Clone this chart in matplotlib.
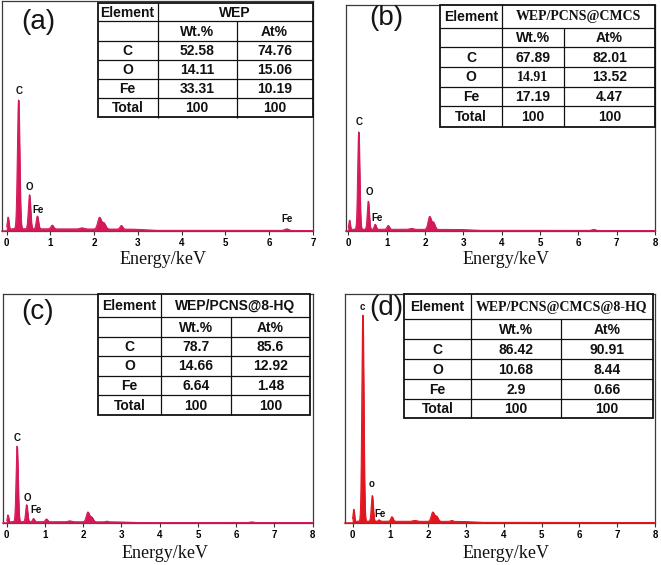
import numpy as np
import matplotlib
matplotlib.use("Agg")
import matplotlib.pyplot as plt
from matplotlib.patches import Rectangle

# ---------------- data ----------------
elements = ["C", "O", "Fe", "Total"]

titles = ["WEP", "WEP/PCNS@CMCS", "WEP/PCNS@8-HQ", "WEP/PCNS@CMCS@8-HQ"]
wt_a = ["52.58", "14.11", "33.31", "100"]
at_a = ["74.76", "15.06", "10.19", "100"]
wt_b = ["67.89", "14.91", "17.19", "100"]
at_b = ["82.01", "13.52", "4.47", "100"]
wt_c = ["78.7", "14.66", "6.64", "100"]
at_c = ["85.6", "12.92", "1.48", "100"]
wt_d = ["86.42", "10.68", "2.9", "100"]
at_d = ["90.91", "8.44", "0.66", "100"]

# EDS peaks: energy (keV), relative intensity
pk_e_a = [0.03, 0.27, 0.52, 0.70, 1.04, 1.72, 2.12, 2.22, 2.62, 6.40]
pk_h_a = [0.058, 0.56, 0.148, 0.056, 0.016, 0.005, 0.050, 0.026, 0.016, 0.007]
pk_e_b = [0.03, 0.27, 0.52, 0.70, 1.04, 1.65, 2.12, 2.22, 6.40]
pk_h_b = [0.046, 0.43, 0.124, 0.022, 0.017, 0.004, 0.056, 0.030, 0.005]
pk_e_c = [0.03, 0.27, 0.52, 0.70, 1.04, 1.65, 2.12, 2.22, 2.62, 6.40]
pk_h_c = [0.034, 0.33, 0.074, 0.014, 0.012, 0.004, 0.042, 0.020, 0.003, 0.003]
pk_e_d = [0.03, 0.27, 0.52, 0.70, 1.04, 1.65, 2.12, 2.22, 2.62]
pk_h_d = [0.058, 0.90, 0.112, 0.006, 0.020, 0.004, 0.040, 0.022, 0.004]
# peak widths (keV) by energy
pk_w = {0.03: 0.02, 0.27: 0.026, 0.52: 0.025, 0.70: 0.025, 1.04: 0.03,
        1.65: 0.05, 1.72: 0.05, 2.12: 0.04, 2.22: 0.04, 2.62: 0.03, 6.40: 0.045}

# continuum background: energy, level
bg_e = [0.0, 0.12, 2.9, 3.4, 8.0]
bg_a = [0.0, 0.010, 0.008, 0.003, 0.002]
bg_b = [0.0, 0.008, 0.007, 0.003, 0.002]
bg_c = [0.0, 0.006, 0.005, 0.002, 0.002]
bg_d = [0.0, 0.008, 0.007, 0.003, 0.002]

# peak labels: text, energy, relative height
lab_a = [("C", 0.28, 0.61), ("O", 0.53, 0.19), ("Fe", 0.72, 0.092), ("Fe", 6.41, 0.05)]
lab_b = [("C", 0.29, 0.48), ("O", 0.54, 0.172), ("Fe", 0.74, 0.057)]
lab_c = [("C", 0.28, 0.372), ("O", 0.55, 0.11), ("Fe", 0.76, 0.055)]
lab_d = [("c", 0.26, 0.945), ("o", 0.50, 0.17), ("Fe", 0.72, 0.04)]

# ---------------- layout (pixels) ----------------
W, H = 661, 565
fig = plt.figure(figsize=(W / 100, H / 100), dpi=100)
fig.patch.set_facecolor("white")

panels = [
    dict(box=(2, 1, 313, 231), xlim=(-0.107, 7.0), xmax=7, ticks=range(0, 8),
         pe=pk_e_a, ph=pk_h_a, bg=bg_a, labs=lab_a, color="#D5185A",
         tag="(a)", tagpos=(38, 22), xlab=(163, 259),
         tab=dict(xs=[97.5, 157.5, 236.7, 312.5], ys=[3.3, 21.3, 40.7, 60, 79, 98.3, 117.5],
                  title=titles[0], wt=wt_a, at=at_a, serif_title=False, serif_cells=[])),
    dict(box=(345.7, 4.7, 655, 231), xlim=(-0.068, 8.0), xmax=8, ticks=range(0, 9),
         pe=pk_e_b, ph=pk_h_b, bg=bg_b, labs=lab_b, color="#D5185A",
         tag="(b)", tagpos=(386, 18), xlab=(506, 259),
         tab=dict(xs=[440, 502, 564, 655], ys=[4.7, 27.7, 47.3, 66.7, 86.7, 106, 126.7],
                  title=titles[1], wt=wt_b, at=at_b, serif_title=True, serif_cells=[(1, 1)])),
    dict(box=(2.7, 294, 312.7, 523), xlim=(-0.105, 8.0), xmax=8, ticks=range(0, 9),
         pe=pk_e_c, ph=pk_h_c, bg=bg_c, labs=lab_c, color="#D5185A",
         tag="(c)", tagpos=(38, 312), xlab=(165, 553),
         tab=dict(xs=[97.7, 161, 231, 310], ys=[294, 317.3, 336.7, 356, 375.7, 395, 415],
                  title=titles[2], wt=wt_c, at=at_c, serif_title=False, serif_cells=[])),
    dict(box=(345, 294, 655, 523), xlim=(-0.2, 8.0), xmax=8, ticks=range(0, 9),
         pe=pk_e_d, ph=pk_h_d, bg=bg_d, labs=lab_d, color="#E2161F",
         tag="(d)", tagpos=(386, 308), xlab=(506, 553),
         tab=dict(xs=[404, 470.7, 560.7, 653.3], ys=[294, 319.3, 339.3, 359.3, 379.3, 399, 418.3],
                  title=titles[3], wt=wt_d, at=at_d, serif_title=True, serif_cells=[])),
]

SANS = "Liberation Sans"
SERIF = "Liberation Serif"

for p in panels:
    l, t, r, b = p["box"]
    ax = fig.add_axes([l / W, 1 - b / H, (r - l) / W, (b - t) / H])
    e = np.linspace(0, p["xmax"], 4000)
    y = np.interp(e, bg_e, p["bg"])
    for c, h in zip(p["pe"], p["ph"]):
        y = y + h * np.exp(-0.5 * ((e - c) / pk_w[c]) ** 2)
    ax.fill_between(e, 0, y, color=p["color"], lw=0.6, zorder=2)
    ax.plot(e, y, color=p["color"], lw=0.7, zorder=3)
    ax.axhline(0, color=p["color"], lw=1.1, zorder=4, clip_on=False)
    ax.set_xlim(*p["xlim"])
    ax.set_ylim(0, 1)
    ax.set_yticks([])
    ax.set_xticks(list(p["ticks"]))
    ax.set_xticklabels([str(v) for v in p["ticks"]], fontsize=7,
                       fontweight="bold", family=SANS)
    ax.tick_params(axis="x", direction="out", length=3, width=0.8, pad=2,
                   color="#333333")
    for s in ax.spines.values():
        s.set_color("#3a3a3a")
        s.set_linewidth(0.9)
    for txt, ex, ey in p["labs"]:
        ax.text(ex, ey, txt, ha="center", va="center", fontsize=7,
                fontweight="bold", family=SANS, color="#111111", zorder=5)
    fig.text(p["tagpos"][0] / W, 1 - p["tagpos"][1] / H, p["tag"], ha="center",
             va="center", fontsize=20, family=SANS, color="#151515")
    fig.text(p["xlab"][0] / W, 1 - p["xlab"][1] / H, "Energy/keV", ha="center",
             va="center", fontsize=13, family=SERIF, color="#111111")

# ---------------- tables ----------------
ov = fig.add_axes([0, 0, 1, 1], zorder=10)
ov.set_xlim(0, W)
ov.set_ylim(H, 0)
ov.axis("off")
ov.patch.set_alpha(0)

for p in panels:
    tb = p["tab"]
    xs, ys = tb["xs"], tb["ys"]
    ov.add_patch(Rectangle((xs[0], ys[0]), xs[3] - xs[0], ys[6] - ys[0],
                           facecolor="white", edgecolor="#111111", lw=1.3, zorder=1))
    for yy in ys[1:6]:
        ov.plot([xs[0], xs[3]], [yy, yy], color="#111111", lw=0.9, zorder=2,
                solid_capstyle="butt")
    ov.plot([xs[1], xs[1]], [ys[0], ys[6]], color="#111111", lw=0.9, zorder=2,
            solid_capstyle="butt")
    ov.plot([xs[2], xs[2]], [ys[1], ys[6]], color="#111111", lw=0.9, zorder=2,
            solid_capstyle="butt")
    fs = 10

    def cell(x0, x1, y0, y1, s, serif=False):
        ov.text((x0 + x1) / 2, (y0 + y1) / 2 + 0.5, s, ha="center", va="center",
                fontsize=fs, fontweight="bold", family=SERIF if serif else SANS,
                color="#111111", zorder=3)

    cell(xs[0], xs[1], ys[0], ys[1], "Element")
    cell(xs[1], xs[3], ys[0], ys[1], tb["title"], serif=tb["serif_title"])
    cell(xs[1], xs[2], ys[1], ys[2], "Wt.%")
    cell(xs[2], xs[3], ys[1], ys[2], "At%")
    for i, el in enumerate(elements):
        cell(xs[0], xs[1], ys[i + 2], ys[i + 3], el)
        cell(xs[1], xs[2], ys[i + 2], ys[i + 3], tb["wt"][i], serif=(i, 1) in tb["serif_cells"])
        cell(xs[2], xs[3], ys[i + 2], ys[i + 3], tb["at"][i], serif=(i, 2) in tb["serif_cells"])

fig.savefig("out.png", dpi=100, facecolor="white")
